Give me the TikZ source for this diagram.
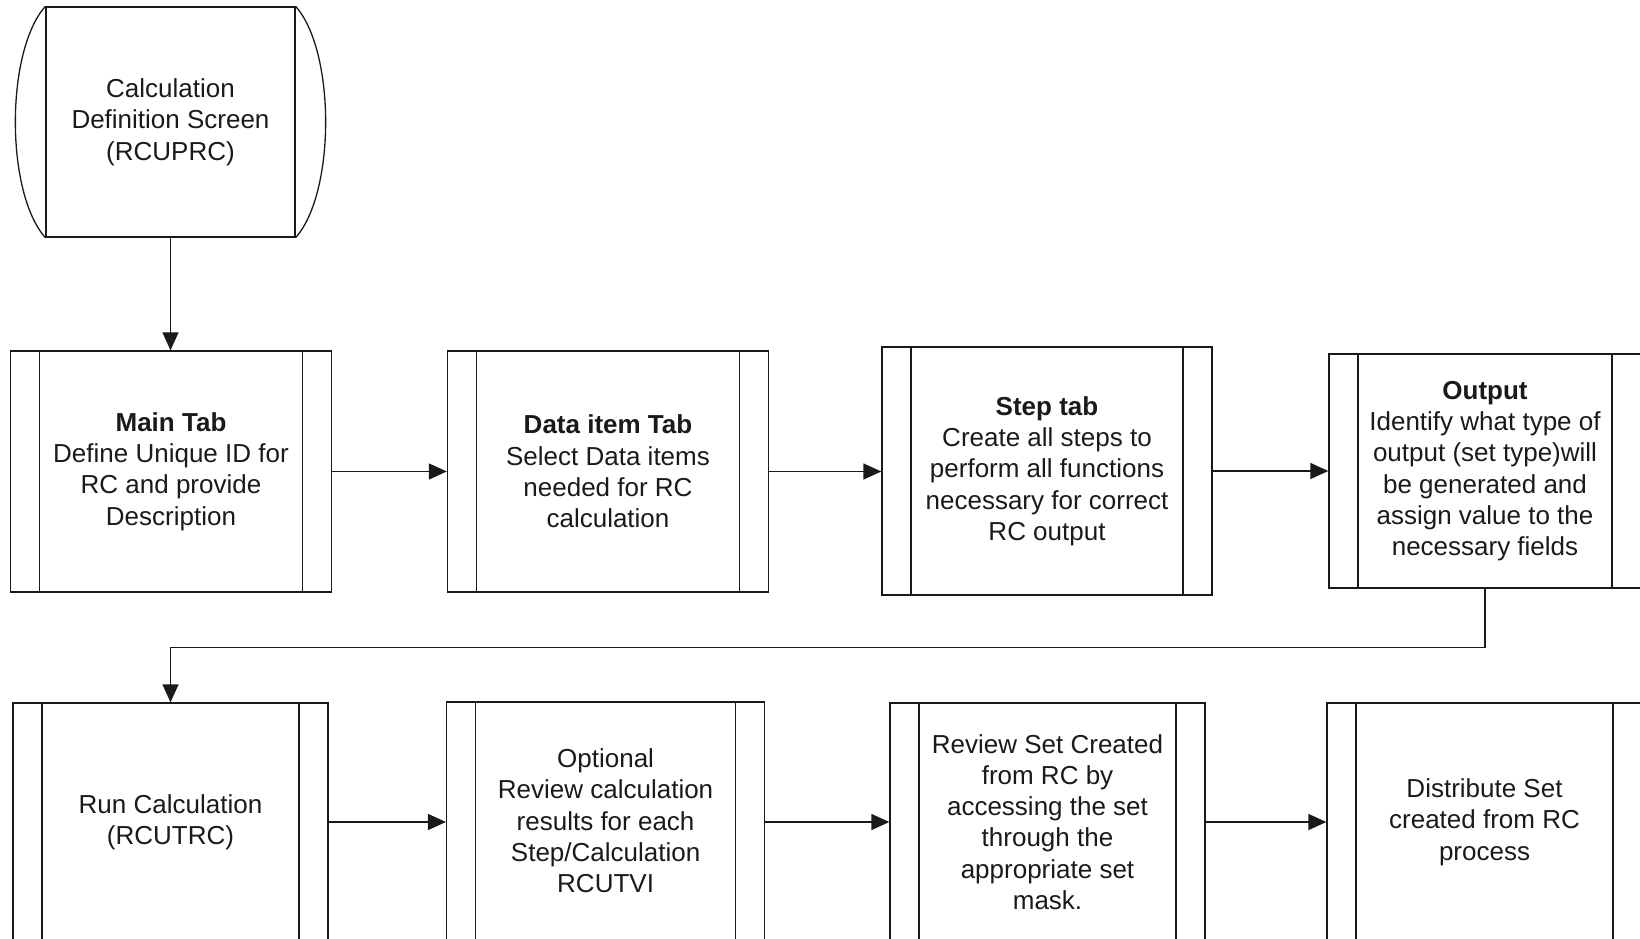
\documentclass[tikz,border=0pt]{standalone}
\usepackage{fontspec}
\setmainfont{Liberation Sans}
\usetikzlibrary{arrows.meta,positioning,calc}
\definecolor{ink}{HTML}{1A1A1A}
\tikzset{
  base/.style={font=\fontsize{26}{31.3}\selectfont, text=ink},
  proc/.style={base, draw=ink, line width=1.3pt, align=center, inner sep=0pt,
    path picture={
      \draw[line width=1.3pt, ink] ([xshift=29pt]path picture bounding box.north west) -- ([xshift=29pt]path picture bounding box.south west);
      \draw[line width=1.3pt, ink] ([xshift=-29pt]path picture bounding box.north east) -- ([xshift=-29pt]path picture bounding box.south east);
    }},
  screenbox/.style={base, draw=ink, line width=1.3pt, align=center, inner sep=0pt},
  arrow/.style={-{Triangle[length=18pt,width=16pt]}, line width=1.3pt, draw=ink},
}
\begin{document}
\begin{tikzpicture}[x=1pt,y=1pt]
  \useasboundingbox (0,0) rectangle (1640,938);
  \clip (0,0) rectangle (1640,938);

  \node[screenbox,minimum width=249pt,minimum height=230pt] (scr) at (170.5,816) {Calculation\\Definition Screen\\(RCUPRC)};
  \draw[line width=1.3pt, ink] (scr.north east) .. controls +(40,-45) and +(40,45) .. (scr.south east);
  \draw[line width=1.3pt, ink] (scr.north west) .. controls +(-40,-45) and +(-40,45) .. (scr.south west);

  \node[proc,minimum width=321pt,minimum height=241pt] (main) at (171,466.5) {\textbf{Main Tab}\\Define Unique ID for\\RC and provide\\Description};
  \node[proc,minimum width=321pt,minimum height=241pt] (data) at (608,466.5) {\textbf{Data item Tab}\\Select Data items\\needed for RC\\calculation};
  \node[proc,minimum width=330pt,minimum height=248pt] (steptab) at (1047,467) {\textbf{Step tab}\\Create all steps to\\perform all functions\\necessary for correct\\RC output};
  \node[proc,minimum width=312pt,minimum height=234pt] (output) at (1485,467) {\textbf{Output}\\Identify what type of\\output (set type)will\\be generated and\\assign value to the\\necessary fields};

  \node[proc,minimum width=315pt,minimum height=238pt] (run) at (170.5,116) {Run Calculation\\(RCUTRC)};
  \node[proc,minimum width=318pt,minimum height=238pt] (optional) at (605.6,117) {Optional\\Review calculation\\results for each\\Step/Calculation\\RCUTVI};
  \node[proc,minimum width=315pt,minimum height=238pt] (review) at (1047.5,116) {Review Set Created\\from RC by\\accessing the set\\through the\\appropriate set\\mask.};
  \node[proc,minimum width=315pt,minimum height=238pt] (distribute) at (1484.5,116) {Distribute Set\\created from RC\\process};

  \coordinate (turn) at (170.5,290.5);

  \draw[arrow] (scr.south) -- (scr.south |- main.north);
  \draw[arrow] (main.east) -- (data.west);
  \draw[arrow] (data.east) -- (steptab.west |- data.east);
  \draw[arrow] (steptab.east |- output.west) -- (output.west);
  \draw[arrow] (output.south) |- (turn) -- (run.north);
  \draw[arrow] (run.east) -- (optional.west |- run.east);
  \draw[arrow] (optional.east |- review.west) -- (review.west);
  \draw[arrow] (review.east) -- (distribute.west);
\end{tikzpicture}
\end{document}
